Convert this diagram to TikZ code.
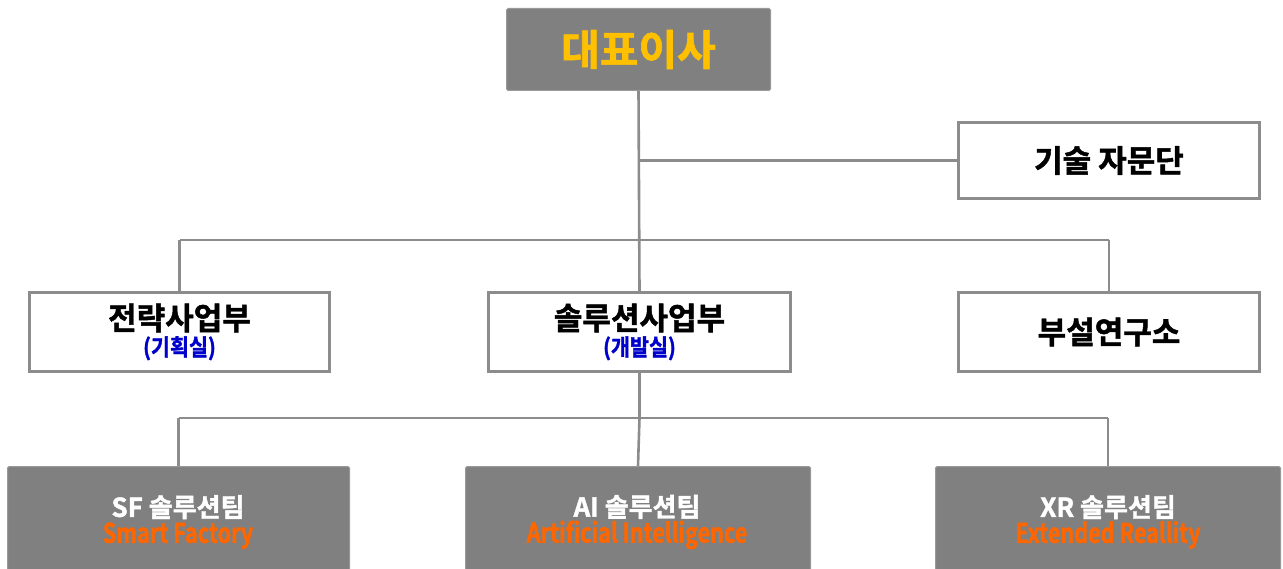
\documentclass[tikz,border=0pt]{standalone}
\usepackage{fontspec}
\setmainfont{Noto Sans CJK KR}[BoldFont={* Bold}, BoldFeatures={FakeBold=1.5}]
\definecolor{boxgray}{HTML}{808080}
\definecolor{linegray}{HTML}{8C8C8C}
\definecolor{gold}{HTML}{FFC000}
\definecolor{subblue}{HTML}{0000CC}
\definecolor{orangetxt}{HTML}{FF6600}
\newcommand{\subtxt}[1]{{\color{subblue}\fontsize{23}{24}\selectfont\scalebox{0.9}[1]{#1}}}
\newcommand{\engtxt}[1]{{\color{orangetxt}\fontsize{27}{28}\selectfont\scalebox{0.8}[1]{#1}}}
\tikzset{
  conn/.style={draw=linegray, line width=2.6pt},
  whitebox/.style={draw=linegray, line width=3pt, fill=white, rectangle, inner sep=0pt, align=center, font=\bfseries\fontsize{31}{32}\selectfont},
  graybox/.style={draw=boxgray!80!white, line width=1pt, fill=boxgray, rectangle, rounded corners=1.5pt, inner sep=0pt, align=center, text=white},
  teamtxt/.style={align=center, text=white, font=\bfseries\fontsize{26}{28}\selectfont},
}
\begin{document}
\begin{tikzpicture}[x=1pt,y=-1pt]
\useasboundingbox (0,0) rectangle (1283,569);
\clip (0,0) rectangle (1283,569);
% nodes
\node[graybox, minimum width=264pt, minimum height=82pt, anchor=north west, font=\bfseries\fontsize{42}{44}\selectfont, text=gold] (ceo) at (506,8) {대표이사};
\node[whitebox, minimum width=301pt, minimum height=76pt, anchor=north west] (adv) at (957,121) {기술 자문단};
\node[whitebox, minimum width=300pt, minimum height=79pt, anchor=north west] (strat) at (28,291) {전략사업부\\[-6pt]\subtxt{(기획실)}};
\node[whitebox, minimum width=302pt, minimum height=79pt, anchor=north west] (sol) at (487,291) {솔루션사업부\\[-6pt]\subtxt{(개발실)}};
\node[whitebox, minimum width=301pt, minimum height=79pt, anchor=north west] (lab) at (957,291) {부설연구소};
\node[graybox, minimum width=342pt, minimum height=120pt, anchor=north west] (sf) at (7,466) {};
\node[graybox, minimum width=345pt, minimum height=120pt, anchor=north west] (ai) at (465,466) {};
\node[graybox, minimum width=345pt, minimum height=120pt, anchor=north west] (xr) at (935,466) {};
\node[teamtxt] (sft) at (178,522) {SF 솔루션팀\\[-2pt]\engtxt{Smart Factory}};
\node[teamtxt] (ait) at (637,522) {AI 솔루션팀\\[-2pt]\engtxt{Artificial Intelligence}};
\node[teamtxt] (xrt) at (1108,522) {XR 솔루션팀\\[-2pt]\engtxt{Extended Reallity}};
% connectors
\draw[conn] (ceo.south) -- (sol.north);
\draw[conn] (adv.west) -- (adv.west -| ceo.south);
\draw[conn] (strat.north |- 0,240) -- (lab.north |- 0,240);
\draw[conn] (strat.north |- 0,240) -- (strat.north);
\draw[conn] (lab.north |- 0,240) -- (lab.north);
\draw[conn] (sol.south) -- (sol.south |- 0,418);
\draw[conn] (sf.north |- 0,418) -- (xr.north |- 0,418);
\draw[conn] (sf.north |- 0,418) -- (sf.north);
\draw[conn] (sol.south |- 0,418) -- (ai.north);
\draw[conn] (xr.north |- 0,418) -- (xr.north);
\end{tikzpicture}
\end{document}
